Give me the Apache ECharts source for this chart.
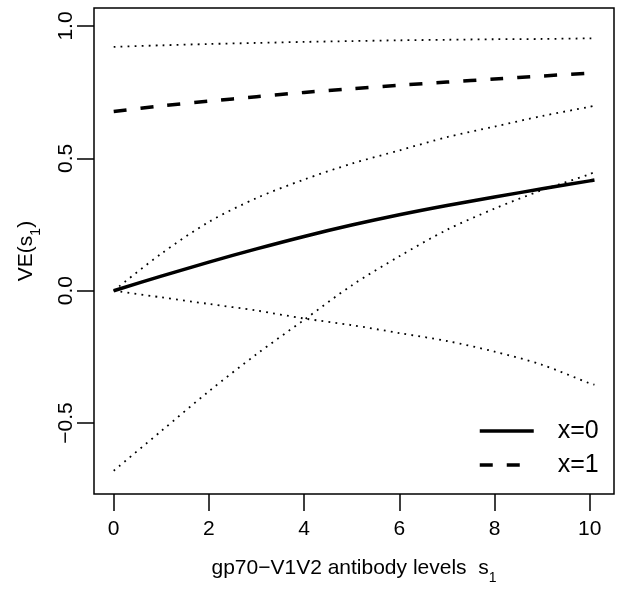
<!DOCTYPE html>
<html>
<head>
<meta charset="utf-8">
<script src="https://cdn.jsdelivr.net/npm/echarts@6/dist/echarts.min.js"></script>
<style>
html,body{margin:0;padding:0;background:#fff;}
#c{width:624px;height:589px;}
</style>
</head>
<body>
<div id="c"></div>
<script>
// x grid (antibody levels s1)
var sValues = [0, 1, 2, 3, 4, 5, 6, 7, 8, 9, 10, 10.1];
// VE estimate, x=0 (solid)
var ve0 = [0, 0.055, 0.108, 0.158, 0.205, 0.248, 0.287, 0.322, 0.354, 0.385, 0.415, 0.418];
// x=0 confidence band
var ve0Upper = [0, 0.14, 0.26, 0.35, 0.42, 0.48, 0.53, 0.58, 0.62, 0.66, 0.695, 0.70];
var ve0Lower = [0, -0.025, -0.05, -0.075, -0.105, -0.13, -0.16, -0.19, -0.23, -0.28, -0.35, -0.355];
// VE estimate, x=1 (dashed)
var ve1 = [0.677, 0.698, 0.716, 0.733, 0.749, 0.763, 0.776, 0.788, 0.800, 0.811, 0.822, 0.823];
// x=1 confidence band
var ve1Upper = [0.921, 0.927, 0.932, 0.936, 0.940, 0.943, 0.946, 0.948, 0.950, 0.951, 0.953, 0.953];
var ve1Lower = [-0.68, -0.53, -0.38, -0.24, -0.11, 0.02, 0.13, 0.23, 0.31, 0.38, 0.44, 0.45];

var xTicks = [0, 2, 4, 6, 8, 10];
var yTicks = [-0.5, 0, 0.5, 1];
var legendNames = ['x=0', 'x=1'];

function pairs(ys) { return sValues.map(function (x, i) { return [x, ys[i]]; }); }

var FONT = 'Liberation Sans, Arial, Helvetica, sans-serif';
var FS = 21;
var chart = echarts.init(document.getElementById('c'), null, {renderer: 'canvas'});

function lineSeries(name, ys, width, type) {
  return {
    name: name, type: 'line', data: pairs(ys), symbol: 'none', smooth: 0.3,
    silent: true, animation: false,
    itemStyle: {color: '#000'},
    lineStyle: {color: '#000', width: width, type: type, cap: 'butt'}
  };
}
var dots = [1.8, 5.2];

var rich = {
  t: {fontSize: FS, fontFamily: FONT, color: '#000', lineHeight: 34, verticalAlign: 'middle'},
  sub: {fontSize: 14, fontFamily: FONT, color: '#000', lineHeight: 14, verticalAlign: 'bottom'}
};

chart.setOption({
  animation: false,
  backgroundColor: '#fff',
  grid: {left: 94, right: 10, top: 8, bottom: 95, show: true, borderColor: '#000', borderWidth: 1.5,
    backgroundColor: 'transparent', containLabel: false, outerBoundsMode: 'none'},
  xAxis: {
    type: 'value', min: -0.414, max: 10.51,
    splitLine: {show: false}, axisLine: {show: false, onZero: false},
    axisTick: {show: true, length: 17, inside: false, customValues: xTicks, lineStyle: {color: '#000', width: 1.5}},
    axisLabel: {customValues: xTicks, margin: 25, color: '#000', fontSize: FS, fontFamily: FONT},
    name: '{t|gp70\u2212V1V2 antibody levels  s}{sub|1}',
    nameLocation: 'middle', nameGap: 57,
    nameTextStyle: {rich: rich}
  },
  yAxis: {
    type: 'value', min: -0.768, max: 1.068,
    splitLine: {show: false}, axisLine: {show: false, onZero: false},
    axisTick: {show: true, length: 17, inside: false, customValues: yTicks, lineStyle: {color: '#000', width: 1.5}},
    axisLabel: {customValues: yTicks, rotate: 90, margin: 17, color: '#000', fontSize: FS, fontFamily: FONT,
      formatter: function (v) { return v.toFixed(1).replace('-', '\u2212'); }},
    name: '{t|VE(s}{sub|1}{t|)}', nameLocation: 'middle', nameRotate: 90, nameGap: 51,
    nameTextStyle: {rich: rich}
  },
  legend: {
    data: legendNames, orient: 'vertical', left: 478, top: 417, padding: 0,
    itemWidth: 54, itemHeight: 20, itemGap: 6, selectedMode: false,
    lineStyle: {width: 3.5},
    itemStyle: {opacity: 0, color: 'transparent', borderColor: 'transparent'},
    textStyle: {color: '#000', fontSize: 25, fontFamily: FONT, lineHeight: 28, padding: [0, 0, 0, 19]}
  },
  series: [
    lineSeries('x=0', ve0, 3.5, 'solid'),
    lineSeries('x=1', ve1, 3.5, [13, 14]),
    lineSeries('x=0 upper', ve0Upper, 1.8, dots),
    lineSeries('x=0 lower', ve0Lower, 1.8, dots),
    lineSeries('x=1 upper', ve1Upper, 1.8, dots),
    lineSeries('x=1 lower', ve1Lower, 1.8, dots)
  ]
});
</script>
</body>
</html>
